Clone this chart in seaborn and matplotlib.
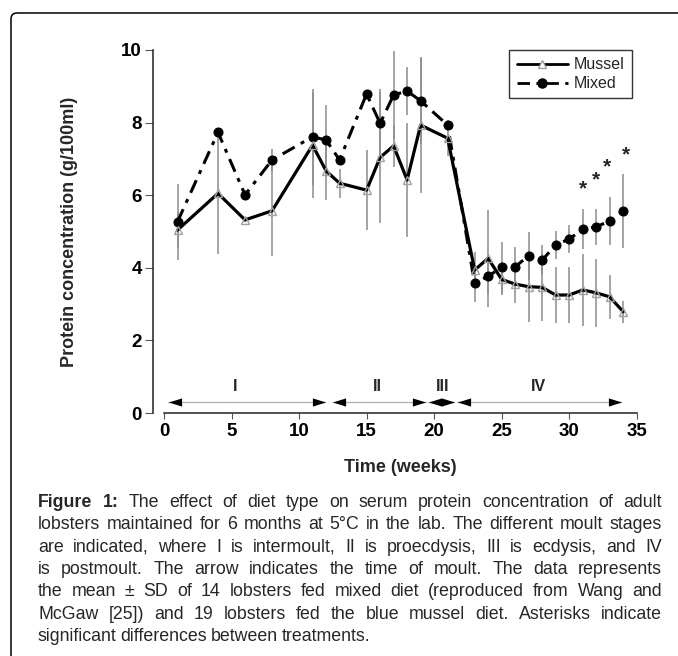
import matplotlib
matplotlib.use("Agg")
import matplotlib.pyplot as plt
import seaborn as sns
from matplotlib.lines import Line2D
from matplotlib.patches import FancyBboxPatch
from matplotlib.transforms import IdentityTransform, offset_copy

# ---- data ----
weeks = [1, 4, 6, 8, 11, 12, 13, 15, 16, 17, 18, 19, 21, 23, 24, 25, 26, 27, 28, 29, 30, 31, 32, 33, 34]
mussel = [5.04, 6.05, 5.32, 5.57, 7.38, 6.67, 6.33, 6.14, 7.04, 7.36, 6.42, 7.93, 7.57,
          3.94, 4.26, 3.68, 3.55, 3.48, 3.46, 3.25, 3.25, 3.39, 3.31, 3.20, 2.79]
mussel_sd = [0.50, 1.67, 0.05, 1.24, 1.47, 0.80, 0.40, 1.10, 1.80, 0.57, 1.56, 1.86, 0.50,
             0.50, 1.33, 0.43, 0.53, 0.96, 0.93, 0.76, 0.76, 1.00, 0.93, 0.60, 0.30]
mixed = [5.27, 7.73, 6.01, 6.97, 7.61, 7.52, 6.97, 8.79, 7.98, 8.76, 8.87, 8.60, 7.93,
         3.57, 3.77, 4.01, 4.03, 4.33, 4.21, 4.63, 4.79, 5.06, 5.13, 5.29, 5.57]
mixed_sd = [1.05, 0.00, 0.05, 0.30, 1.32, 0.96, 0.10, 0.10, 0.94, 1.20, 0.66, 1.20, 0.05,
            0.52, 0.50, 0.70, 0.55, 0.66, 0.42, 0.39, 0.39, 0.55, 0.50, 0.67, 1.02]

x_ticks = [0, 5, 10, 15, 20, 25, 30, 35]
y_ticks = [0, 2, 4, 6, 8, 10]

stage_labels = ['I', 'II', 'III', 'IV']
stage_start = [0.3, 12.5, 19.55, 21.7]
stage_end = [11.95, 19.4, 21.5, 33.85]
stage_label_x = [5.3, 15.8, 20.6, 27.7]

star_weeks = [31.0, 32.0, 32.8, 34.2]
star_y = [6.18, 6.42, 6.78, 7.12]

caption_lines = [
    "Figure 1: The effect of diet type on serum protein concentration of adult",
    "lobsters maintained for 6 months at 5\u00b0C in the lab. The different moult stages",
    "are indicated, where I is intermoult, II is proecdysis, III is ecdysis, and IV",
    "is postmoult. The arrow indicates the time of moult. The data represents",
    "the mean \u00b1 SD of 14 lobsters fed mixed diet (reproduced from Wang and",
    "McGaw [25]) and 19 lobsters fed the blue mussel diet. Asterisks indicate",
    "significant differences between treatments.",
]

sns.set_theme(style='ticks')
plt.rcParams['font.family'] = ['Liberation Sans', 'DejaVu Sans']

W, H = 678, 656
fig = plt.figure(figsize=(W / 100, H / 100), dpi=100)
ax = fig.add_axes([164 / W, 1 - 413 / H, 472.7 / W, 363 / H])
# offset the spines first: moving a spine resets the tick labels
sns.despine(ax=ax, offset={'left': 8})

# error bars (grey, no caps) behind the lines
ax.errorbar(weeks, mussel, yerr=mussel_sd, fmt='none', ecolor='#8c8c8c',
            elinewidth=1.1, capsize=0, zorder=1)
ax.errorbar(weeks, mixed, yerr=mixed_sd, fmt='none', ecolor='#8c8c8c',
            elinewidth=1.1, capsize=0, zorder=1)

mixed_dash = (0, (4.5, 2.3, 1.3, 2.3))
sns.lineplot(x=weeks, y=mixed, ax=ax, color='black', linewidth=2.2, linestyle=mixed_dash,
             marker='o', markersize=6.5, markerfacecolor='black', markeredgecolor='black',
             estimator=None, errorbar=None, zorder=3)
sns.lineplot(x=weeks, y=mussel, ax=ax, color='black', linewidth=2.3,
             marker='^', markersize=5.5, markerfacecolor='none', markeredgecolor='#a0a0a0',
             markeredgewidth=1.0, estimator=None, errorbar=None, zorder=4)

# significance asterisks
for xs, ys in zip(star_weeks, star_y):
    ax.text(xs, ys, '*', ha='center', va='center', fontsize=15, fontweight='bold')

# moult stage arrows
arrow_y = 0.3
head = [(-1, 0), (1, 0.62), (1, -0.62)]
head_r = [(1, 0), (-1, 0.62), (-1, -0.62)]
hs = 9.5
left_tr = offset_copy(ax.transData, fig=fig, x=hs / 2, y=0, units='points')
right_tr = offset_copy(ax.transData, fig=fig, x=-hs / 2, y=0, units='points')
for lab, s, e, lx in zip(stage_labels, stage_start, stage_end, stage_label_x):
    ax.plot([s, e], [arrow_y, arrow_y], color='#b5b5b5', lw=1.0, zorder=2, clip_on=False)
    ax.plot([s], [arrow_y], marker=head, ms=hs, color='black', mew=0,
            transform=left_tr, zorder=3, clip_on=False)
    ax.plot([e], [arrow_y], marker=head_r, ms=hs, color='black', mew=0,
            transform=right_tr, zorder=3, clip_on=False)
    ax.text(lx, 0.72, lab, ha='center', va='center', fontsize=11.5, fontweight='bold')

ax.set_xlim(0, 35)
ax.set_ylim(0, 10)
ax.tick_params(axis='both', colors='black', width=0.8)
ax.tick_params(axis='y', length=6, pad=2, color='#555555')
ax.tick_params(axis='x', length=4, pad=3, color='#555555')
ax.set_xticks(x_ticks, [str(v) for v in x_ticks], fontsize=13.5, fontweight='bold')
ax.set_yticks(y_ticks, [str(v) for v in y_ticks], fontsize=13.5, fontweight='bold')
ax.set_xlabel('Time (weeks)', fontsize=13, fontweight='bold', labelpad=14)
ax.set_ylabel('Protein concentration (g/100ml)', fontsize=13, fontweight='bold', labelpad=31)
for sp in ax.spines.values():
    sp.set_color('#222222')
    sp.set_linewidth(1.1)
ax.grid(False)

handles = [
    Line2D([], [], color='black', lw=2.0, marker='^', ms=5.5, mfc='white', mec='#a0a0a0'),
    Line2D([], [], color='black', lw=2.0, linestyle=mixed_dash, marker='o', ms=6.5,
           mfc='black', mec='black'),
]
leg = ax.legend(handles, ['Mussel', 'Mixed'], loc='upper right', bbox_to_anchor=(0.99, 1.0),
                frameon=True, fancybox=False, fontsize=11.5, handlelength=3.2,
                borderpad=0.45, labelspacing=0.25, handletextpad=0.4, borderaxespad=0)
leg.get_frame().set_edgecolor('black')
leg.get_frame().set_linewidth(1.0)

# outer rounded border
fig.patches.append(FancyBboxPatch((11, -40), 720, 683, boxstyle='round,pad=0,rounding_size=6',
                                  transform=IdentityTransform(), fill=False, ec='black', lw=1.1))

# justified caption
renderer = fig.canvas.get_renderer()
cap_left, cap_right = 38, 662
base0, step = 507, 22.35
for i, line in enumerate(caption_lines):
    words = line.split(' ')
    bold_n = 2 if i == 0 else 0
    fs = 12.8
    while True:
        arts = []
        for j, w in enumerate(words):
            t = fig.text(0, 0, w, transform=IdentityTransform(), fontsize=fs,
                         fontweight='bold' if j < bold_n else 'normal', va='baseline', ha='left')
            arts.append(t)
        widths = [a.get_window_extent(renderer).width for a in arts]
        last = i == len(caption_lines) - 1
        gap = 3.8 if last else (cap_right - cap_left - sum(widths)) / (len(words) - 1)
        if gap >= 2.4 or fs < 9:
            break
        for a in arts:
            a.remove()
        fs -= 0.2
    x = cap_left
    y = H - (base0 + i * step)
    for a, wd in zip(arts, widths):
        a.set_position((x, y))
        x += wd + gap

fig.savefig('out.png', dpi=100)
